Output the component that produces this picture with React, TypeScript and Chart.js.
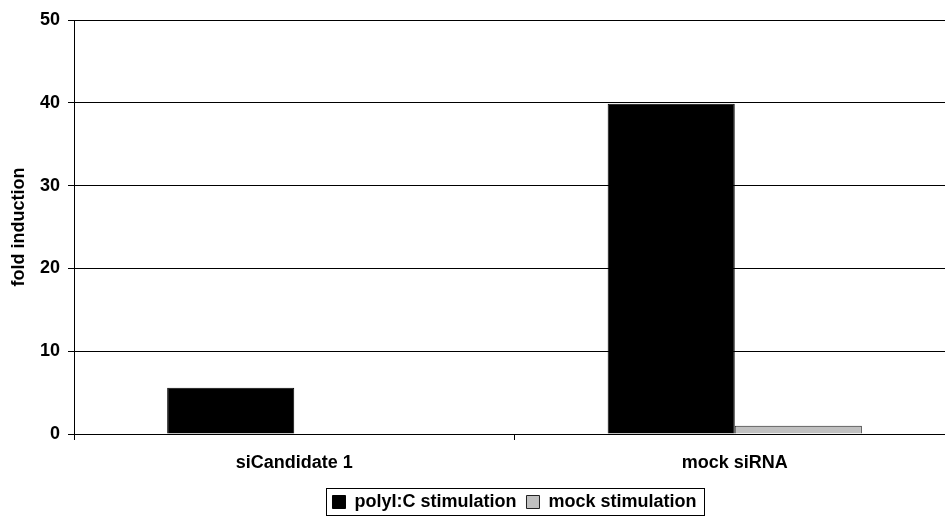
import React, { useEffect, useRef } from 'react';
import { Chart, registerables } from 'chart.js';

Chart.register(...registerables);

const categories = ['siCandidate 1', 'mock siRNA'];
const seriesLabels = ['polyI:C stimulation', 'mock stimulation'];
const polyICValues = [5.6, 39.9];
const mockValues = [0, 1.0];
const yMin = 0;
const yMax = 50;
const yStep = 10;

const FONT = "'Liberation Sans', Arial, Helvetica, sans-serif";

const legendBorder = {
  id: 'legendBorder',
  afterDraw(chart: any) {
    const lg = chart.legend;
    const hb = lg && lg.legendHitBoxes;
    if (!hb || !hb.length) return;
    const ctx = chart.ctx;
    const last = hb[hb.length - 1];
    const left = Math.round(hb[0].left - 6) + 0.5;
    const right = Math.round(last.left + last.width + 7) + 0.5;
    const cy = hb[0].top + hb[0].height / 2;
    const top = Math.round(cy - 14) + 0.5;
    const bottom = Math.round(cy + 13) + 0.5;
    ctx.save();
    ctx.strokeStyle = '#000';
    ctx.lineWidth = 1;
    ctx.strokeRect(left, top, right - left, bottom - top);
    ctx.restore();
  },
};

export default function App() {
  const ref = useRef<HTMLCanvasElement | null>(null);

  useEffect(() => {
    if (!ref.current) return;
    Chart.defaults.font.family = FONT;
    Chart.defaults.font.weight = 'bold';
    Chart.defaults.font.size = 18;
    Chart.defaults.color = '#000';
    const chart = new Chart(ref.current, {
      type: 'bar',
      data: {
        labels: categories,
        datasets: [
          {
            label: seriesLabels[0],
            data: polyICValues,
            backgroundColor: '#000000',
            borderColor: '#000000',
            borderWidth: 1,
            categoryPercentage: 0.577,
            barPercentage: 1,
          },
          {
            label: seriesLabels[1],
            data: mockValues,
            backgroundColor: '#c0c0c0',
            borderColor: '#222222',
            borderWidth: 1,
            categoryPercentage: 0.577,
            barPercentage: 1,
          },
        ],
      },
      options: {
        responsive: false,
        animation: false,
        devicePixelRatio: 1,
        layout: { padding: { top: 20, left: 0, right: 0, bottom: 0 } },
        plugins: {
          tooltip: { enabled: false },
          legend: {
            display: true,
            position: 'bottom',
            fullSize: false,
            labels: {
              boxWidth: 13,
              boxHeight: 13,
              padding: 10,
              color: '#000',
              font: { size: 18, weight: 'bold', family: FONT },
            },
          },
        },
        scales: {
          x: {
            type: 'category',
            grid: {
              offset: true,
              drawOnChartArea: false,
              drawTicks: true,
              tickLength: 6,
              color: '#000',
              lineWidth: 1,
            },
            border: { display: true, color: '#000', width: 1 },
            ticks: {
              padding: 12,
              color: '#000',
              font: { size: 18, weight: 'bold', family: FONT },
            },
            afterFit(scale: any) {
              scale.height = 49;
            },
          },
          y: {
            min: yMin,
            max: yMax,
            grid: {
              color: '#000',
              lineWidth: 1,
              drawTicks: true,
              tickLength: 6,
            },
            border: { display: true, color: '#000', width: 1 },
            ticks: {
              stepSize: yStep,
              padding: 8,
              color: '#000',
              font: { size: 18, weight: 'bold', family: FONT },
            },
            title: {
              display: true,
              text: 'fold induction',
              color: '#000',
              padding: { top: 8, bottom: 0 },
              font: { size: 18, weight: 'bold', family: FONT },
            },
            afterFit(scale: any) {
              scale.width = 74;
            },
          },
        },
      },
      plugins: [legendBorder],
    });
    return () => chart.destroy();
  }, []);

  return (
    <div
      style={{
        position: 'fixed',
        left: 0,
        top: 0,
        width: 945,
        height: 516,
        overflow: 'hidden',
        background: '#fff',
      }}
    >
      <canvas ref={ref} width={955} height={521} style={{ display: 'block', width: 955, height: 521 }} />
    </div>
  );
}
